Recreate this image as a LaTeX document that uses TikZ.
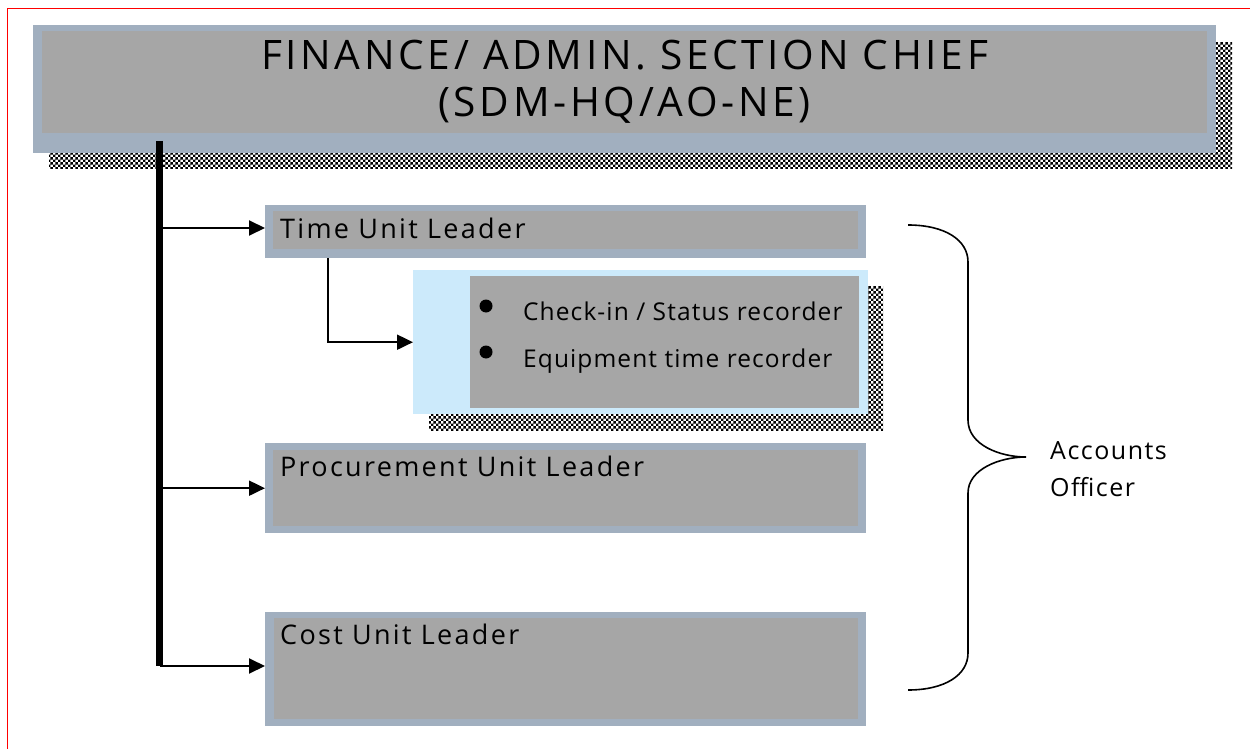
\documentclass[tikz,border=0pt]{standalone}
\usepackage{fontspec}
\setmainfont{Open Sans}
\newfontfamily\titlefont{Open Sans}[LetterSpace=9]
\newfontfamily\boxfont{Open Sans}[LetterSpace=8.5]
\newfontfamily\itemfont{Open Sans}[LetterSpace=4.5]
\newfontfamily\sidefont{Open Sans}[LetterSpace=6]
\usetikzlibrary{arrows.meta,calc,patterns}
\definecolor{outerc}{HTML}{A1AFBF}
\definecolor{innerc}{HTML}{A6A6A6}
\definecolor{lightc}{HTML}{CCEAFB}
\pgfdeclarepatternformonly{checker}{\pgfpointorigin}{\pgfpoint{5.4pt}{5.4pt}}{\pgfpoint{5.4pt}{5.4pt}}{%
  \pgfpathrectangle{\pgfpointorigin}{\pgfpoint{2.7pt}{2.7pt}}%
  \pgfpathrectangle{\pgfpoint{2.7pt}{2.7pt}}{\pgfpoint{2.7pt}{2.7pt}}%
  \pgfusepath{fill}}
\tikzset{
  outerbox/.style={rectangle, fill=outerc, draw=none, inner sep=0pt, anchor=north west},
  lightbox/.style={rectangle, fill=lightc, draw=none, inner sep=0pt, anchor=north west},
  innerfill/.style={fill=innerc},
  shadowfill/.style={pattern=checker, pattern color=black},
  boxtext/.style={anchor=base west, inner sep=0pt, font=\boxfont\fontsize{27}{32}\selectfont},
  itemtext/.style={anchor=base west, inner sep=0pt, font=\itemfont\fontsize{24.5}{29}\selectfont},
  titletext/.style={anchor=base, inner sep=0pt, font=\titlefont\fontsize{40.6}{48}\selectfont},
  sidetext/.style={anchor=base west, inner sep=0pt, font=\sidefont\fontsize{25}{30}\selectfont},
  bulletdot/.style={fill=black},
  conn/.style={line width=2pt, -{Triangle[length=16pt,width=15pt]}},
  trunkline/.style={line width=7pt},
  bracestyle/.style={line width=1.6pt},
  frame/.style={draw=red, line width=1.5pt}
}
\begin{document}
\begin{tikzpicture}[x=1pt,y=-1pt]
\useasboundingbox (0,0) rectangle (1250,749);
\fill[white] (0,0) rectangle (1250,749);
\draw[frame] (7.5,749) -- (7.5,8.5) -- (1250,8.5);
% title
\fill[shadowfill] (49,42) rectangle (1232,168);
\node[outerbox, minimum width=1183pt, minimum height=128pt] (chief) at (33,25) {};
\fill[innerfill] (42,31) rectangle (1207,133);
\node[titletext] (chiefa) at (624.5,70) {FINANCE/ ADMIN. SECTION CHIEF};
\node[titletext] (chiefb) at (624.5,117) {(SDM-HQ/AO-NE)};
% trunk
\coordinate (trunktop) at (159.5,141);
\coordinate (trunkbot) at (159.5,666);
\draw[trunkline] (trunktop) -- (trunkbot);
% time unit leader
\node[outerbox, minimum width=601pt, minimum height=53pt] (tul) at (265,205) {};
\fill[innerfill] (273,211) rectangle (858,249);
\node[boxtext] (tult) at (280,238) {Time Unit Leader};
% recorders
\fill[shadowfill] (429,286) rectangle (883,430);
\node[lightbox, minimum width=455pt, minimum height=144pt] (rec) at (413,270) {};
\fill[innerfill] (470,276) rectangle (859,408);
\fill[bulletdot] (486,306) circle[radius=6.5pt];
\fill[bulletdot] (486,352) circle[radius=6.5pt];
\node[itemtext] (reca) at (523,320) {Check-in / Status recorder};
\node[itemtext] (recb) at (523,367) {Equipment time recorder};
% procurement
\node[outerbox, minimum width=601pt, minimum height=90pt] (pul) at (265,443) {};
\fill[innerfill] (273,450) rectangle (858,526);
\node[boxtext] (pult) at (280,476) {Procurement Unit Leader};
% cost
\node[outerbox, minimum width=601pt, minimum height=114pt] (cul) at (265,612) {};
\fill[innerfill] (274,618) rectangle (858,719);
\node[boxtext] (cult) at (280,644) {Cost Unit Leader};
% connectors
\coordinate (elbow) at (328,258);
\draw[conn] (trunktop |- 0,228) -- (tul.west |- 0,228);
\draw[conn] (trunktop |- pul.west) -- (pul.west);
\draw[conn] (trunkbot) -- (cul.west |- trunkbot);
\draw[conn] (elbow) |- (rec.west);
% brace
\coordinate (bracetop) at (908,225);
\coordinate (bracetip) at (1026,457);
\coordinate (bracebot) at (908,690);
\draw[bracestyle] (bracetop) .. controls (945,225) and (968,240) .. (968,262) -- (968,420)
  .. controls (968,445) and (1000,457) .. (bracetip)
  .. controls (1000,457) and (968,469) .. (968,493) -- (968,653)
  .. controls (968,675) and (945,690) .. (bracebot);
\node[sidetext] (acc) at (1050,459) {Accounts};
\node[sidetext] (off) at (1050,496) {Officer};
\end{tikzpicture}
\end{document}
